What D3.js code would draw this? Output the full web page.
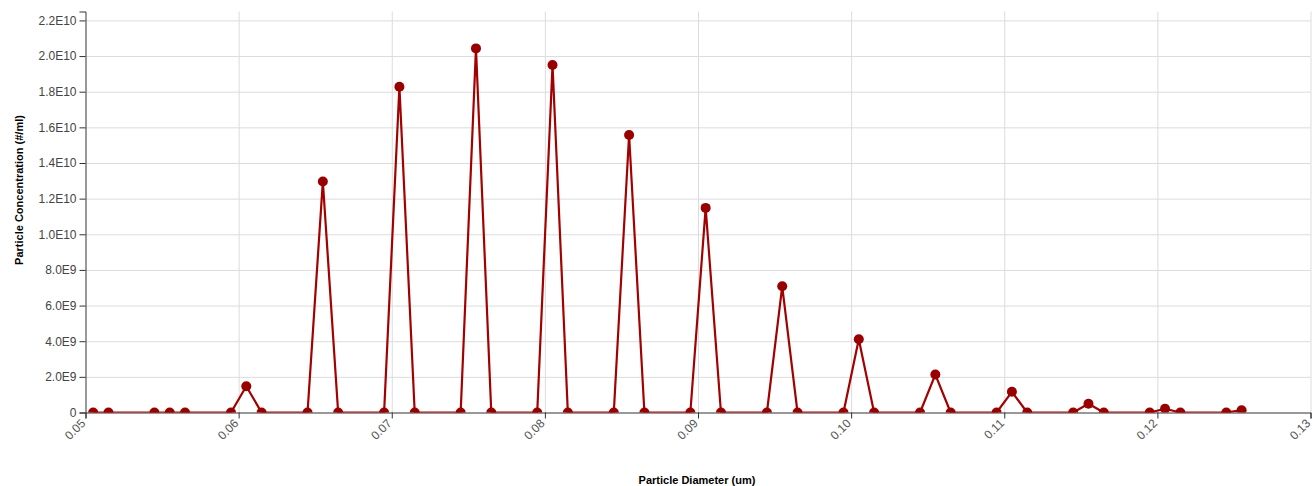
<!DOCTYPE html>
<html>
<head>
<meta charset="utf-8">
<script src="https://cdnjs.cloudflare.com/ajax/libs/d3/7.8.5/d3.min.js"></script>
<style>
  body { margin: 0; background: #fff; }
  svg { font-family: "Liberation Sans", Arial, sans-serif; }
  .grid line { stroke: #dcdcdc; stroke-width: 1; }
  .grid .domain { display: none; }
  .axis .domain, .axis line { stroke: #333; }
  .axis text { fill: #444; font-size: 12px; }
  .x-axis text { fill: #555; }
  .title { font-size: 11px; font-weight: bold; fill: #000; }
</style>
</head>
<body>
<svg id="chart" width="1314" height="486"></svg>
<script>
// particle diameters (um)
var diameters = [
  0.0505, 0.0515, 0.0545, 0.0555, 0.0565,
  0.0595, 0.0605, 0.0615, 0.0645, 0.0655, 0.0665,
  0.0695, 0.0705, 0.0715, 0.0745, 0.0755, 0.0765,
  0.0795, 0.0805, 0.0815, 0.0845, 0.0855, 0.0865,
  0.0895, 0.0905, 0.0915, 0.0945, 0.0955, 0.0965,
  0.0995, 0.1005, 0.1015, 0.1045, 0.1055, 0.1065,
  0.1095, 0.1105, 0.1115, 0.1145, 0.1155, 0.1165,
  0.1195, 0.1205, 0.1215, 0.1245, 0.1255
];

// concentration (#/ml)
var concentrations = [
  0, 0, 0, 0, 0,
  0, 1.47e9, 0, 0, 1.296e10, 0,
  0, 1.828e10, 0, 0, 2.043e10, 0,
  0, 1.95e10, 0, 0, 1.557e10, 0,
  0, 1.148e10, 0, 0, 7.08e9, 0,
  0, 4.11e9, 0, 0, 2.13e9, 0,
  0, 1.16e9, 0, 0, 4.9e8, 0,
  0, 2.1e8, 0, 0, 1.3e8
];

var xTicks = [0.05, 0.06, 0.07, 0.08, 0.09, 0.10, 0.11, 0.12, 0.13];
var yTicks = [0, 2e9, 4e9, 6e9, 8e9, 1e10, 1.2e10, 1.4e10, 1.6e10, 1.8e10, 2.0e10, 2.2e10];

(function() {
  var mLeft = 85.5, mRight = 1310.5, mTop = 11.5, mBottom = 412.5;

  var svg = d3.select("#chart");

  var x = d3.scaleLinear().domain([0.05, 0.13]).range([mLeft, mRight]);
  var y = d3.scaleLinear().domain([0, 2.25e10]).range([mBottom, mTop]);

  var yFmt = function(d) {
    return d === 0 ? "0" : d3.format(".1e")(d).replace("e+", "E");
  };

  // grid
  svg.append("g")
    .attr("class", "grid")
    .attr("transform", "translate(0," + mBottom + ")")
    .call(d3.axisBottom(x).tickValues(xTicks.slice(1)).tickSize(-(mBottom - mTop)).tickFormat(""));

  svg.append("g")
    .attr("class", "grid")
    .attr("transform", "translate(" + mLeft + ",0)")
    .call(d3.axisLeft(y).tickValues(yTicks.slice(1)).tickSize(-(mRight - mLeft)).tickFormat(""));

  // axes
  svg.append("g")
    .attr("class", "axis x-axis")
    .attr("transform", "translate(0," + mBottom + ")")
    .call(d3.axisBottom(x).tickValues(xTicks).tickSize(6).tickSizeOuter(6).tickFormat(d3.format(".2f")))
    .selectAll("text")
      .attr("text-anchor", "end")
      .attr("x", -8)
      .attr("y", 4)
      .attr("dy", "0.35em")
      .attr("transform", "rotate(-45)");

  svg.append("g")
    .attr("class", "axis y-axis")
    .attr("transform", "translate(" + mLeft + ",0)")
    .call(d3.axisLeft(y).tickValues(yTicks).tickSize(6).tickSizeOuter(6).tickFormat(yFmt));

  // data
  var data = diameters.map(function(d, i) { return { d: d, c: concentrations[i] }; });

  svg.append("clipPath").attr("id", "plotclip")
    .append("rect")
      .attr("x", mLeft).attr("y", mTop - 6)
      .attr("width", mRight - mLeft).attr("height", mBottom - mTop + 6);

  var plot = svg.append("g").attr("clip-path", "url(#plotclip)");

  plot.append("path")
    .datum(data)
    .attr("fill", "none")
    .attr("stroke", "#a30000")
    .attr("stroke-width", 2.2)
    .attr("stroke-linejoin", "round")
    .attr("d", d3.line().x(function(d) { return x(d.d); }).y(function(d) { return y(d.c); }));

  plot.selectAll("circle")
    .data(data)
    .enter().append("circle")
      .attr("cx", function(d) { return x(d.d); })
      .attr("cy", function(d) { return y(d.c); })
      .attr("r", 5)
      .attr("fill", "#990000");

  // titles
  svg.append("text")
    .attr("class", "title")
    .attr("text-anchor", "middle")
    .attr("transform", "translate(23,190) rotate(-90)")
    .text("Particle Concentration (#/ml)");

  svg.append("text")
    .attr("class", "title")
    .attr("text-anchor", "middle")
    .attr("x", 697)
    .attr("y", 484)
    .text("Particle Diameter (um)");
})();
</script>
</body>
</html>
